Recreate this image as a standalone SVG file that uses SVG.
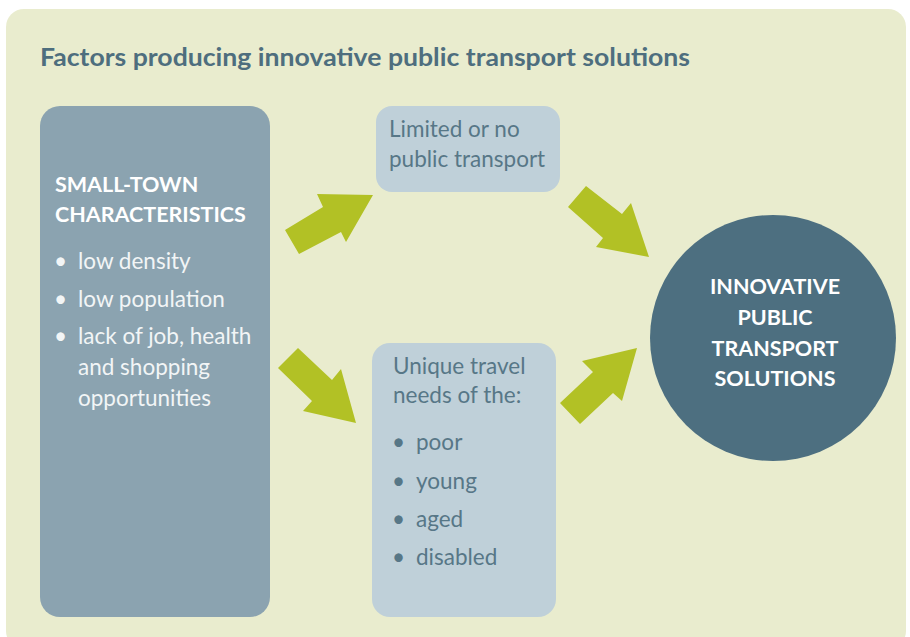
<svg xmlns="http://www.w3.org/2000/svg" width="910" height="637" viewBox="0 0 910 637">
  <style>
    .panel { fill: #e9ecce; }
    .title { font-family: Lato, "Open Sans", sans-serif; font-weight: bold; font-size: 25px; fill: #4e6e7e; }
    .head { font-family: Lato, "Open Sans", sans-serif; font-weight: bold; font-size: 21.5px; fill: #ffffff; }
    .body-w { font-family: Lato, "Open Sans", sans-serif; font-size: 22.5px; fill: #f2f5f6; }
    .body-d { font-family: Lato, "Open Sans", sans-serif; font-size: 22.5px; fill: #577787; }
    .dark { fill: #8ba3b0; }
    .light { fill: #bfd0d9; }
    .goal { fill: #4d6f80; }
    .arrow { fill: #b2c125; }
  </style>

  <!-- background panel -->
  <rect class="panel" x="6" y="9" width="900" height="640" rx="18"/>

  <text class="title" x="40" y="66" textLength="650" lengthAdjust="spacingAndGlyphs">Factors producing innovative public transport solutions</text>

  <!-- small-town characteristics -->
  <g id="characteristics">
    <rect class="dark" x="40" y="106" width="230" height="511" rx="20"/>
    <text class="head" x="55" y="192">SMALL-TOWN</text>
    <text class="head" x="55" y="222">CHARACTERISTICS</text>
    <text class="body-w"><tspan x="54" y="269">•</tspan><tspan x="78" y="269">low density</tspan></text>
    <text class="body-w"><tspan x="54" y="307">•</tspan><tspan x="78" y="307">low population</tspan></text>
    <text class="body-w"><tspan x="54" y="344">•</tspan><tspan x="78" y="344">lack of job, health</tspan></text>
    <text class="body-w" x="78" y="375">and shopping</text>
    <text class="body-w" x="78" y="406">opportunities</text>
  </g>

  <!-- limited transport -->
  <g id="limited">
    <rect class="light" x="376" y="106" width="184" height="86" rx="16"/>
    <text class="body-d" x="389" y="137">Limited or no</text>
    <text class="body-d" x="389" y="167">public transport</text>
  </g>

  <!-- travel needs -->
  <g id="needs">
    <rect class="light" x="372" y="343" width="184" height="274" rx="18"/>
    <text class="body-d" x="393" y="374">Unique travel</text>
    <text class="body-d" x="393" y="403">needs of the:</text>
    <text class="body-d"><tspan x="392" y="450">•</tspan><tspan x="416" y="450">poor</tspan></text>
    <text class="body-d"><tspan x="392" y="489">•</tspan><tspan x="416" y="489">young</tspan></text>
    <text class="body-d"><tspan x="392" y="527">•</tspan><tspan x="416" y="527">aged</tspan></text>
    <text class="body-d"><tspan x="392" y="565">•</tspan><tspan x="416" y="565">disabled</tspan></text>
  </g>

  <!-- outcome -->
  <g id="solutions">
    <circle class="goal" cx="773" cy="338" r="123"/>
    <g class="head" text-anchor="middle">
      <text x="775" y="294">INNOVATIVE</text>
      <text x="775" y="325">PUBLIC</text>
      <text x="775" y="356">TRANSPORT</text>
      <text x="775" y="386">SOLUTIONS</text>
    </g>
  </g>

  <!-- block arrows -->
  <g id="connectors">
    <polygon class="arrow" points="285,230 323,207 317,194 373,195 346,242 341,232 299,254"/>
    <polygon class="arrow" points="278,368 298,348 332,380 341,369 356,423 303,411 312,401"/>
    <polygon class="arrow" points="568,207 586,186 622,214 631,203 649,257 596,247 603,238"/>
    <polygon class="arrow" points="560,403 580,424 613,393 622,401 637,348 582,361 593,372"/>
  </g>
</svg>
